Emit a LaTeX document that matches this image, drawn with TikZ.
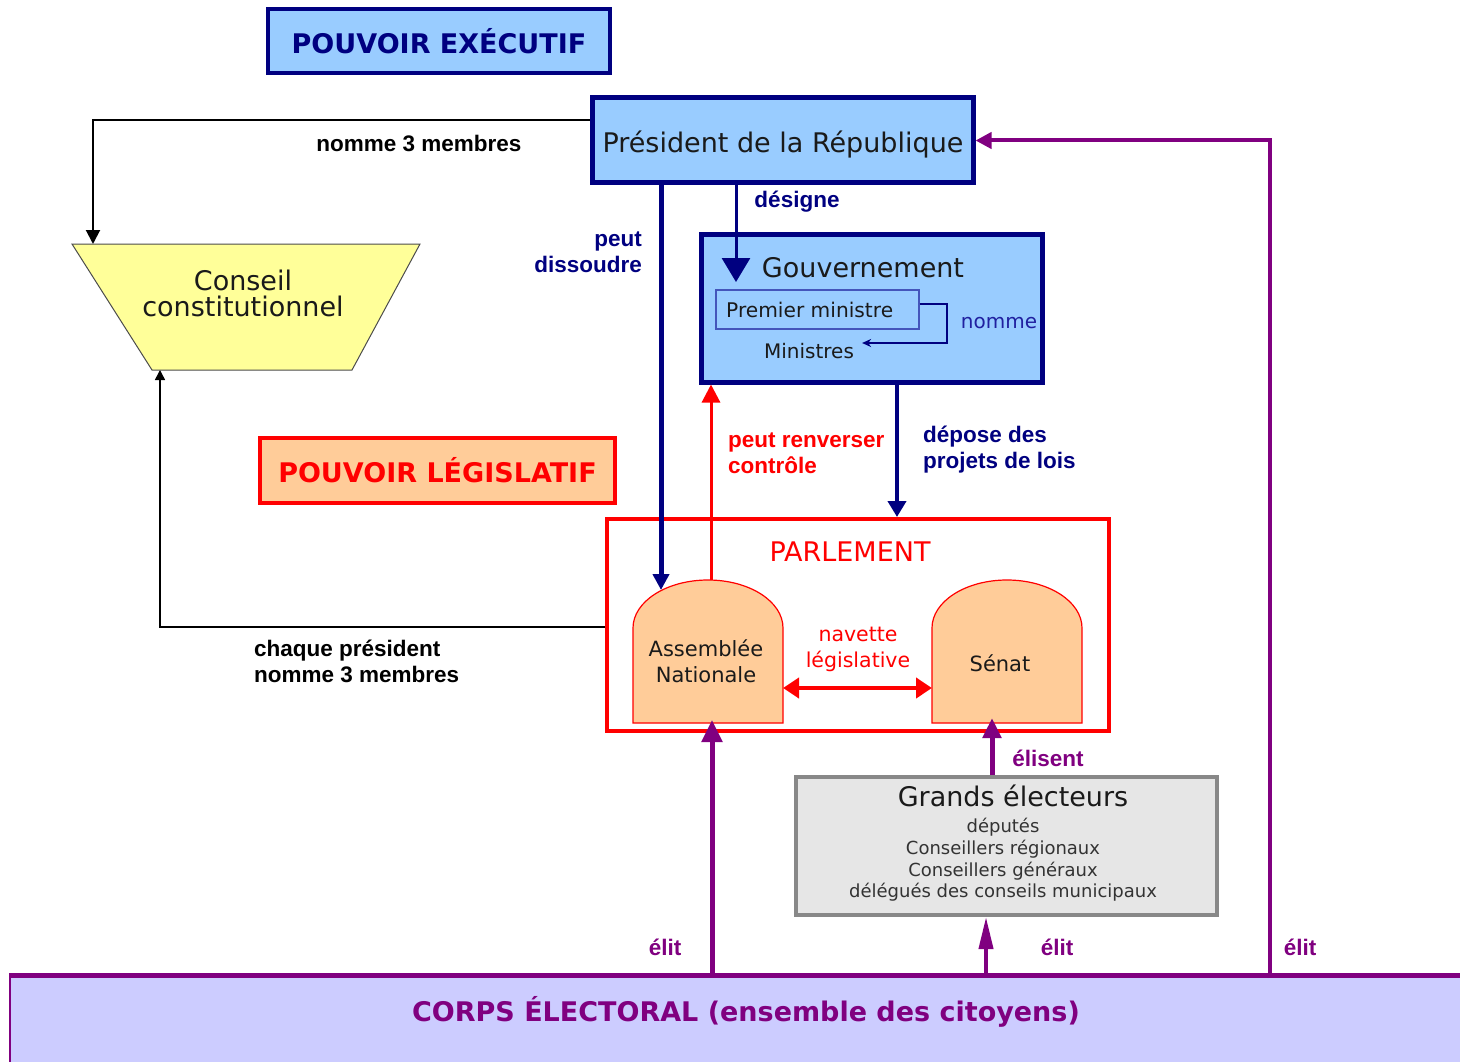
\documentclass[tikz,border=0pt]{standalone}
\usepackage{fontspec}
\setmainfont{DejaVu Sans}
\newfontfamily\lab{Liberation Sans}
\usetikzlibrary{arrows.meta}
\definecolor{navy}{HTML}{000080}
\definecolor{lblue}{HTML}{99CCFF}
\definecolor{peach}{HTML}{FFCC99}
\definecolor{yel}{HTML}{FFFF99}
\definecolor{purp}{HTML}{800080}
\definecolor{lav}{HTML}{CCCCFF}
\definecolor{gborder}{HTML}{888888}
\definecolor{gfill}{HTML}{E6E6E6}
\definecolor{txt}{HTML}{1A1A1A}
\definecolor{pmblue}{HTML}{4455BB}
\definecolor{nblue}{HTML}{2020A0}
\tikzset{
  bigtext/.style={font=\fontsize{27}{26}\selectfont, text=txt, inner sep=0},
  midtext/.style={font=\fontsize{21}{26}\selectfont, text=txt, inner sep=0, align=center},
  smalltext/.style={font=\fontsize{18}{21.7}\selectfont, text=black!80, inner sep=0, align=center},
  lbl/.style={font=\lab\bfseries\fontsize{22.5}{26}\selectfont, inner sep=0},
  titlebox/.style={font=\bfseries\fontsize{27}{27}\selectfont, inner sep=0, line width=4pt},
  bluebox/.style={draw=navy, fill=lblue, line width=5pt, inner sep=0},
}
\begin{document}
\begin{tikzpicture}[x=1pt,y=-1pt]
\useasboundingbox (0,0) rectangle (1460,1062);

% --- Corps électoral ---
\fill[lav] (10,973) rectangle (1460,1062);
\draw[purp, line width=1.5pt] (10,1062) -- (10,973);
\draw[purp, line width=5pt] (10,975) -- (1460,975);
\node[font=\bfseries\fontsize{27}{27}\selectfont, text=purp, inner sep=0] (corps) at (746,1012) {CORPS ÉLECTORAL (ensemble des citoyens)};
\coordinate (corpsA) at (712,973);
\coordinate (corpsG) at (986,975);
\coordinate (corpsP) at (1270,978);

% --- Pouvoir exécutif ---
\node[titlebox, draw=navy, fill=lblue, text=navy, minimum width=342, minimum height=64] (exec) at (439,41) {POUVOIR EXÉCUTIF};

% --- Président ---
\node[bluebox, minimum width=381, minimum height=85] (pres) at (782.5,140.5) {};
\node[bigtext] (prest) at (783,145) {Président de la République};

% --- Gouvernement ---
\node[bluebox, minimum width=341, minimum height=148] (gouv) at (871.5,308) {};
\node[bigtext] (gouvt) at (863,268) {Gouvernement};
\node[draw=pmblue, line width=1.2pt, fill=lblue, minimum width=203, minimum height=39, inner sep=0] (pm) at (817.5,309.5) {};
\node[font=\fontsize{20.2}{20}\selectfont, text=txt, inner sep=0, anchor=west] (pmt) at (726,310) {Premier ministre};
\node[font=\fontsize{20}{20}\selectfont, text=txt, inner sep=0] (mini) at (809,351) {Ministres};
\node[font=\fontsize{20}{20}\selectfont, text=nblue, inner sep=0] (nomme) at (999,323) {nomme};
\draw[navy, line width=2pt, -{Stealth[length=9pt, width=8pt]}] ([yshift=6pt]pm.east) -- ++(27,0) |- ([xshift=8pt, yshift=8pt]mini.east);

% --- Conseil constitutionnel ---
\draw[fill=yel, draw=black!70, line width=1pt] (72,244) -- (420,244) -- (352,370) -- (152,370) -- cycle;
\node[bigtext, align=center] (cc) at (243,293) {Conseil\\constitutionnel};
\coordinate (cctop) at (93,244);
\coordinate (ccbot) at (160,370);

% --- Pouvoir législatif ---
\node[titlebox, draw=red, fill=peach, text=red, minimum width=355, minimum height=65] (legis) at (437.5,470.5) {POUVOIR LÉGISLATIF};

% --- Parlement ---
\node[draw=red, line width=4pt, minimum width=502, minimum height=212, inner sep=0] (parl) at (858,625) {};
\node[font=\fontsize{27}{27}\selectfont, text=red, inner sep=0] (parlt) at (850,552) {PARLEMENT};

% Assemblée
\draw[fill=peach, draw=red, line width=1.2pt] (633,723) -- (633,628)
  .. controls (633,601.5) and (666.6,580) .. (708,580)
  .. controls (749.4,580) and (783,601.5) .. (783,628) -- (783,723) -- cycle;
\node[midtext] (an) at (706,661) {Assemblée\\Nationale};
% Sénat
\draw[fill=peach, draw=red, line width=1.2pt] (932,723) -- (932,628)
  .. controls (932,601.5) and (965.6,580) .. (1007,580)
  .. controls (1048.4,580) and (1082,601.5) .. (1082,628) -- (1082,723) -- cycle;
\node[midtext] (sen) at (1000,663) {Sénat};
\coordinate (anR) at (783,688);
\coordinate (senL) at (932,688);
\coordinate (anTop) at (711,580);
\coordinate (anDis) at (661,590);
\coordinate (anBot) at (712,720);
\coordinate (senBot) at (992,718);
\node[midtext, text=red, font=\fontsize{20.5}{26}\selectfont] (nav) at (858,649) {navette\\législative};
\draw[red, line width=4pt, {Triangle[length=16pt, width=20pt]}-{Triangle[length=16pt, width=20pt]}] (anR) -- (senL);

% --- Grands électeurs ---
\node[draw=gborder, fill=gfill, line width=4pt, minimum width=421, minimum height=138, inner sep=0] (ge) at (1006.5,846) {};
\node[bigtext] (get) at (1013,796) {Grands électeurs};
\node[smalltext] (gel) at (1003,860) {députés\\Conseillers régionaux\\Conseillers généraux\\délégués des conseils municipaux};

% --- Connectors ---
% black
\draw[black, line width=2pt, -{Triangle[length=14pt, width=14pt]}] ([yshift=20.5pt]pres.west) -| (cctop);
\node[lbl] (l1) at (419,143) {nomme 3 membres};
\draw[black, line width=1.5pt, -{Triangle[length=10pt, width=10pt]}] ([yshift=-2pt]parl.west) -| (ccbot);
\node[lbl, align=left, anchor=west] (l2) at (254,661) {chaque président\\nomme 3 membres};

% navy
\draw[navy, line width=5pt, -{Triangle[length=16pt, width=16pt]}] (pres.south -| anDis) -- (anDis);
\node[lbl, text=navy, align=right, anchor=east] (l3) at (642,252) {peut\\dissoudre};
\draw[navy, line width=3pt, -{Triangle[length=24pt, width=28pt]}] (pres.south -| 736,0) -- (736,282);
\node[lbl, text=navy] (l4) at (797,202) {désigne};
\draw[navy, line width=4pt, -{Triangle[length=16pt, width=18pt]}] (gouv.south -| 897,0) -- (parl.north -| 897,0);
\node[lbl, text=navy, align=left, anchor=west] (l5) at (923,450) {dépose des\\projets de lois};

% red
\draw[red, line width=3pt, -{Triangle[length=18pt, width=18pt]}] (anTop) -- (gouv.south -| anTop);
\node[lbl, text=red, align=left, anchor=west] (l6) at (728,453) {peut renverser\\contrôle};

% purple
\draw[purp, line width=5pt, -{Triangle[length=22pt, width=20pt]}] (corpsA) -- (anBot);
\node[lbl, text=purp] (l7) at (665,947) {élit};
\draw[purp, line width=4pt, -{Triangle[length=32pt, width=14pt]}] (corpsG) -- (ge.south -| corpsG);
\node[lbl, text=purp] (l8) at (1057,947) {élit};
\draw[purp, line width=4pt, -{Triangle[length=16pt, width=16pt]}] (corpsP) |- (pres.east);
\node[lbl, text=purp] (l9) at (1300,947) {élit};
\draw[purp, line width=5pt, -{Triangle[length=20pt, width=18pt]}] (ge.north -| senBot) -- (senBot);
\node[lbl, text=purp] (l10) at (1048,758) {élisent};
\end{tikzpicture}
\end{document}
